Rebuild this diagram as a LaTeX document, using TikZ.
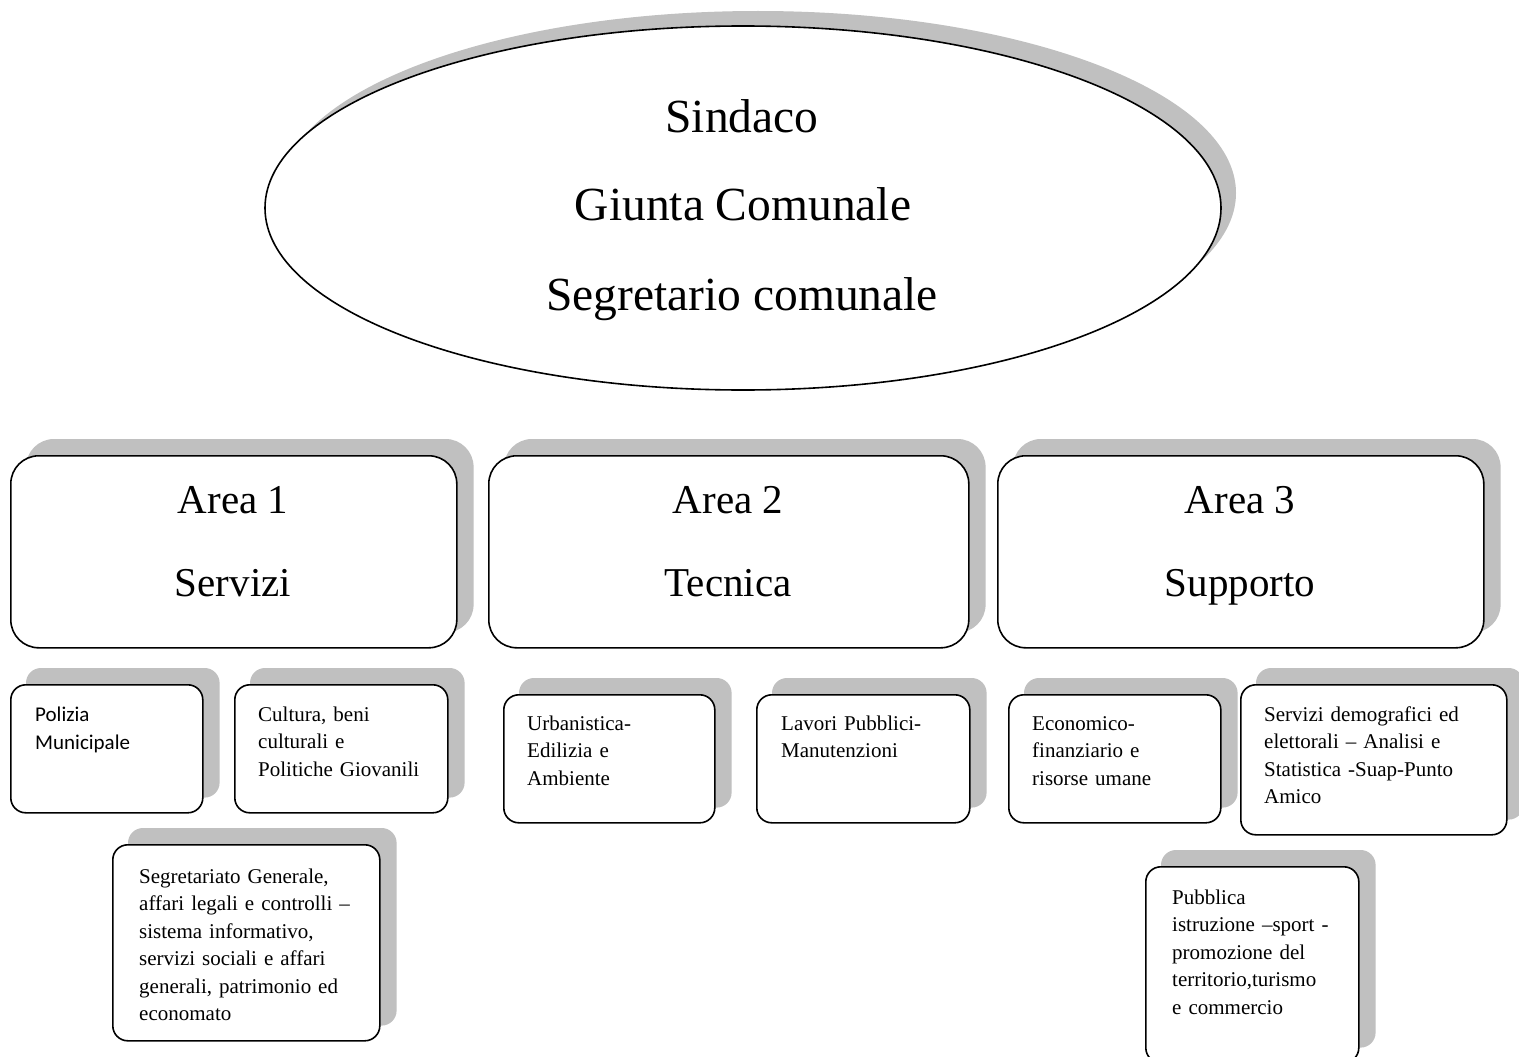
\documentclass[tikz,border=0pt]{standalone}
\usepackage{fontspec}
\setmainfont{Liberation Serif}
\newfontfamily\calibrifont{Carlito}
\usetikzlibrary{shapes.geometric,backgrounds}
\definecolor{shadowgray}{RGB}{192,192,192}
\begin{document}
\begin{tikzpicture}[x=1pt,y=-1pt,
  bigbox/.style={draw, line width=1.6pt, fill=white, rounded corners=28pt, inner sep=0pt,
    anchor=north west},
  smallbox/.style={draw, line width=1.6pt, fill=white, rounded corners=15pt, inner sep=0pt,
    anchor=north west},
  bigshadow/.style={fill=shadowgray, draw=none, rounded corners=28pt},
  smallshadow/.style={fill=shadowgray, draw=none, rounded corners=15pt},
  toptext/.style={font=\fontsize{47.5}{57}\selectfont, anchor=base, inner sep=0pt},
  areatext/.style={font=\fontsize{41}{49}\selectfont, anchor=base, inner sep=0pt},
  boxtext/.style={font=\fontsize{21}{27.5}\selectfont, anchor=base west, inner sep=0pt,
    text width=260pt, align=left},
]
\useasboundingbox (0,0) rectangle (1519,1057);

% top ellipse
\node[ellipse, draw, line width=1.6pt, fill=white, minimum width=956pt, minimum height=364pt,
  inner sep=0pt] (vertice) at (743,208) {};
\node[toptext] (sindaco) at (742,132) {Sindaco};
\node[toptext] (giunta) at (743,220) {Giunta Comunale};
\node[toptext] (segretario) at (742,310) {Segretario comunale};

% area boxes
\node[bigbox, minimum width=446pt, minimum height=192pt] (a1) at (10,455) {};
\node[bigbox, minimum width=480pt, minimum height=192pt] (a2) at (488,455) {};
\node[bigbox, minimum width=486pt, minimum height=192pt] (a3) at (997,455) {};
\node[areatext] (a1t1) at (233,513) {Area 1};
\node[areatext] (a1t2) at (233,596) {Servizi};
\node[areatext] (a2t1) at (728,513) {Area 2};
\node[areatext] (a2t2) at (728,596) {Tecnica};
\node[areatext] (a3t1) at (1240,513) {Area 3};
\node[areatext] (a3t2) at (1240,596) {Supporto};

% sub boxes
\node[smallbox, minimum width=192pt, minimum height=128pt] (polizia) at (10,684) {};
\node[smallbox, minimum width=213pt, minimum height=128pt] (cultura) at (234,684) {};
\node[smallbox, minimum width=267pt, minimum height=196pt] (segret) at (112,844) {};
\node[smallbox, minimum width=211pt, minimum height=128pt] (urban) at (503,694) {};
\node[smallbox, minimum width=213pt, minimum height=128pt] (lavori) at (756,694) {};
\node[smallbox, minimum width=212pt, minimum height=128pt] (econ) at (1008,694) {};
\node[smallbox, minimum width=266pt, minimum height=150pt] (demog) at (1240,684) {};
\node[smallbox, minimum width=213pt, minimum height=196pt] (pubbl) at (1145,866) {};

\node[boxtext, font=\calibrifont\fontsize{21}{28}\selectfont] (poliziat) at (35,721) {Polizia\\Municipale};
\node[boxtext] (culturat) at (258,721) {Cultura, beni\\culturali e\\Politiche Giovanili};
\node[boxtext] (segrett) at (139,883) {Segretariato Generale,\\affari legali e controlli –\\sistema informativo,\\servizi sociali e affari\\generali, patrimonio ed\\economato};
\node[boxtext] (urbant) at (527,730) {Urbanistica-\\Edilizia e\\Ambiente};
\node[boxtext] (lavorit) at (781,730) {Lavori Pubblici-\\Manutenzioni};
\node[boxtext] (econt) at (1032,730) {Economico-\\finanziario e\\risorse umane};
\node[boxtext] (demogt) at (1264,721) {Servizi demografici ed\\elettorali – Analisi e\\Statistica -Suap-Punto\\Amico};
\node[boxtext] (pubblt) at (1172,904) {Pubblica\\istruzione –sport -\\promozione del\\territorio,turismo\\e commercio};

% shadows
\begin{scope}[on background layer]
  \fill[white] (0,0) rectangle (1519,1057);
  \fill[shadowgray] ([shift={(15,-15)}]vertice.center) ellipse [x radius=478, y radius=182];
  \foreach \b in {a1,a2,a3}
    \path[bigshadow] ([shift={(16,-16)}]\b.north west) rectangle ([shift={(16,-16)}]\b.south east);
  \foreach \b in {polizia,cultura,segret,urban,lavori,econ,demog,pubbl}
    \path[smallshadow] ([shift={(16,-16)}]\b.north west) rectangle ([shift={(16,-16)}]\b.south east);
\end{scope}
\end{tikzpicture}
\end{document}
